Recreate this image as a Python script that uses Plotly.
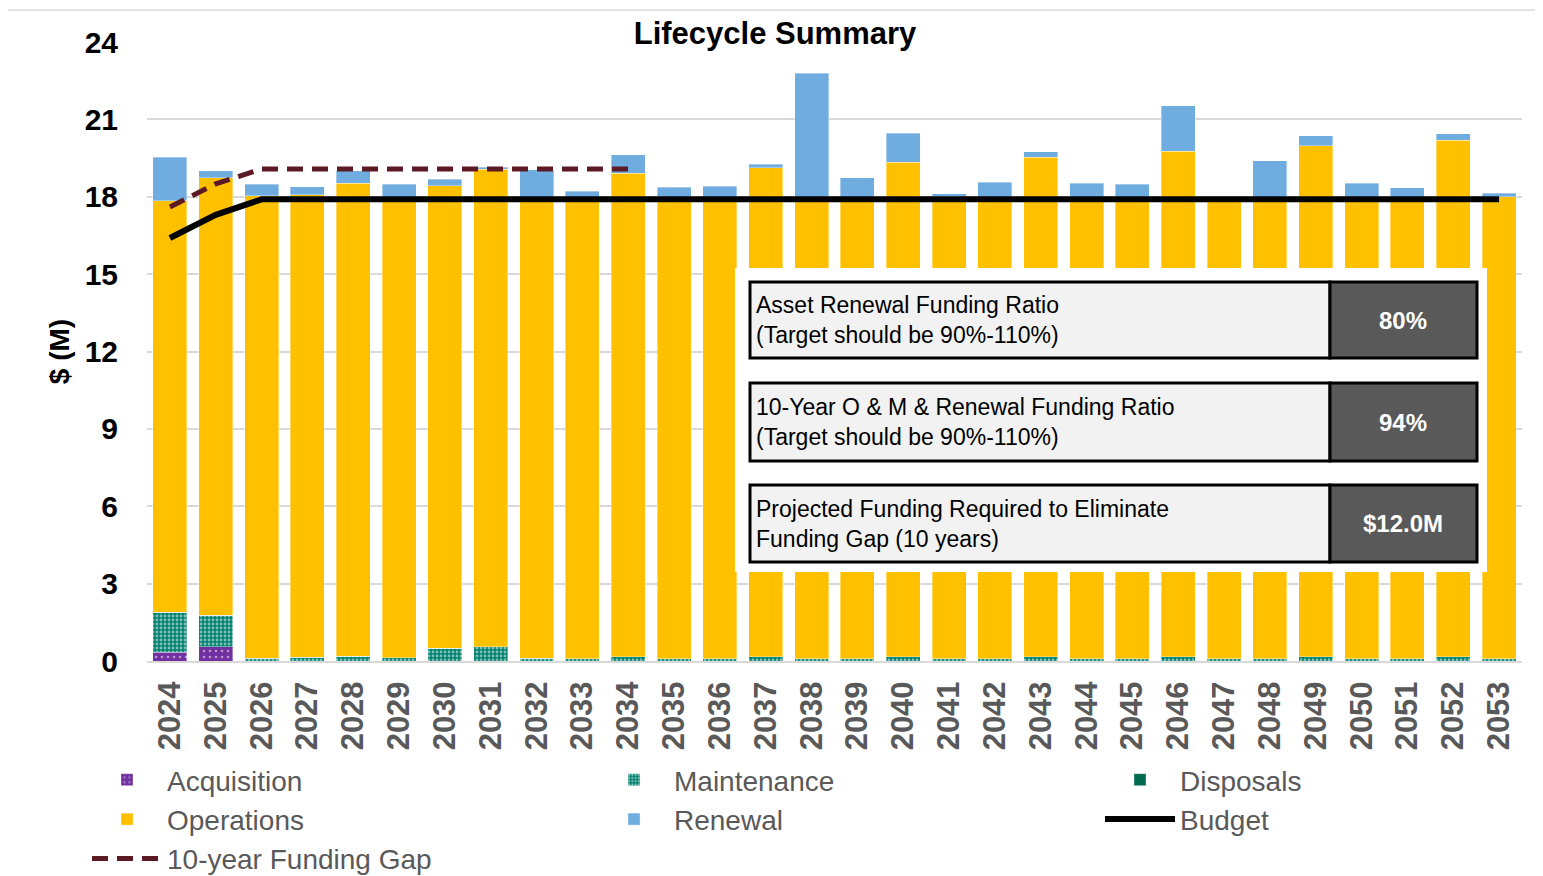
import plotly.graph_objects as go

years = [str(y) for y in range(2024, 2054)]

acquisition = [0.33, 0.55] + [0.0] * 28
maintenance = [1.57, 1.23, 0.10, 0.15, 0.19, 0.13, 0.50, 0.55, 0.10, 0.08,
               0.17, 0.08, 0.08, 0.17, 0.08, 0.08, 0.17, 0.08, 0.08, 0.17,
               0.08, 0.08, 0.17, 0.08, 0.08, 0.17, 0.08, 0.08, 0.17, 0.08]
disposals = [0.0] * 30
operations = [15.94, 16.96, 17.94, 17.93, 18.34, 17.77, 17.92, 18.52, 17.80, 17.82,
              18.74, 17.82, 17.82, 18.96, 17.82, 17.82, 19.16, 17.92, 17.82, 19.37,
              17.82, 17.82, 19.60, 17.82, 17.82, 19.81, 17.82, 17.82, 20.02, 17.92]
renewal = [1.70, 0.26, 0.44, 0.30, 0.48, 0.59, 0.25, 0.07, 1.14, 0.32,
           0.71, 0.46, 0.51, 0.13, 4.89, 0.84, 1.13, 0.11, 0.67, 0.20,
           0.62, 0.58, 1.75, 0.00, 1.49, 0.38, 0.62, 0.44, 0.26, 0.13]
budget = [16.4, 17.3] + [17.9] * 28
funding_gap = [17.6, 18.5] + [19.08] * 9 + [None] * 19

y_ticks = [0, 3, 6, 9, 12, 15, 18, 21, 24]

table_labels = ["Asset Renewal Funding Ratio<br>(Target should be 90%-110%)",
                "10-Year O & M & Renewal Funding Ratio<br>(Target should be 90%-110%)",
                "Projected Funding Required to Eliminate<br>Funding Gap (10 years)"]
table_values = ["80%", "94%", "$12.0M"]

FONT = "Liberation Sans, Arial, sans-serif"
LEG_FONT = dict(family=FONT, size=28, color="#595959")
bar_line = dict(color="rgba(255,255,255,0.6)", width=0.6)

# page body has an 8px margin: screen plot area is x 147..1522, y 42..661
OFF = 8
W, H = 1543 - OFF, 876 - OFF


def px(x):
    return (x - 147) / 1375


def py(y):
    return (661 - y) / 619


fig = go.Figure()
fig.add_trace(go.Bar(x=years, y=acquisition, name="Acquisition", legend="legend",
                     marker=dict(color="#7030A0", line=bar_line,
                                 pattern=dict(shape=".", fgcolor="white", bgcolor="#7030A0",
                                              size=6, solidity=0.15))))
fig.add_trace(go.Bar(x=years, y=maintenance, name="Maintenance", legend="legend2",
                     marker=dict(color="#00806F", line=bar_line,
                                 pattern=dict(shape=".", fgcolor="white", bgcolor="#00806F",
                                              size=4, solidity=0.4))))
fig.add_trace(go.Bar(x=years, y=disposals, name="Disposals", legend="legend3",
                     marker=dict(color="#006B4F", line=bar_line)))
fig.add_trace(go.Bar(x=years, y=operations, name="Operations", legend="legend",
                     marker=dict(color="#FFC000", line=bar_line)))
fig.add_trace(go.Bar(x=years, y=renewal, name="Renewal", legend="legend2",
                     marker=dict(color="#6FACE0", line=bar_line)))
fig.add_trace(go.Scatter(x=years, y=budget, name="Budget", mode="lines", legend="legend3",
                         line=dict(color="black", width=6)))
fig.add_trace(go.Scatter(x=years, y=funding_gap, name="10-year Funding Gap", mode="lines",
                         legend="legend",
                         line=dict(color="#5C1A24", width=5, dash="16px,9px")))

shapes = []
shapes.append(dict(type="rect", xref="paper", yref="paper",
                   x0=px(7), x1=px(1541), y0=py(900), y1=py(10),
                   line=dict(color="#D9D9D9", width=1.5), layer="below"))
shapes.append(dict(type="rect", xref="paper", yref="paper",
                   x0=px(735), x1=px(1487), y0=py(572), y1=py(268),
                   fillcolor="white", line=dict(width=0), layer="above"))
rows = [(282, 358), (383, 461), (485, 562)]
annotations = []
for (t, b), lab, val in zip(rows, table_labels, table_values):
    shapes.append(dict(type="rect", xref="paper", yref="paper",
                       x0=px(750), x1=px(1330), y0=py(b), y1=py(t),
                       fillcolor="#F2F2F2", line=dict(color="black", width=3), layer="above"))
    shapes.append(dict(type="rect", xref="paper", yref="paper",
                       x0=px(1330), x1=px(1477), y0=py(b), y1=py(t),
                       fillcolor="#595959", line=dict(color="black", width=3), layer="above"))
    annotations.append(dict(xref="paper", yref="paper", x=px(754), y=py((t + b) / 2),
                            text=lab, showarrow=False, xanchor="left", yanchor="middle",
                            align="left",
                            font=dict(family=FONT, size=23, color="black")))
    annotations.append(dict(xref="paper", yref="paper", x=px(1403), y=py((t + b) / 2),
                            text="<b>" + val + "</b>", showarrow=False,
                            xanchor="center", yanchor="middle",
                            font=dict(family=FONT, size=24, color="white")))

leg_common = dict(orientation="v", y=py(755), xanchor="left", yanchor="top",
                  font=LEG_FONT, itemwidth=70, traceorder="normal", tracegroupgap=0,
                  bgcolor="rgba(0,0,0,0)")

fig.update_layout(
    width=W, height=H,
    barmode="stack", bargap=0.26,
    plot_bgcolor="white", paper_bgcolor="white",
    margin=dict(l=147 - OFF, r=21, t=42 - OFF, b=H - (661 - OFF), autoexpand=False),
    title=dict(text="<b>Lifecycle Summary</b>", x=(775 - OFF) / W, xref="container",
               xanchor="center", y=1 - (33 - OFF) / H, yanchor="middle",
               font=dict(family=FONT, size=31, color="black")),
    xaxis=dict(type="category", tickangle=-90, showgrid=False,
               showline=True, linecolor="#D9D9D9", linewidth=2, ticks="",
               ticklabelstandoff=6,
               tickfont=dict(family=FONT, size=31, color="#595959", weight="bold")),
    yaxis=dict(range=[0, 24], tickvals=y_ticks, showgrid=True, gridcolor="#D9D9D9",
               gridwidth=1.5, zeroline=False, ticks="",
               tickfont=dict(family=FONT, size=30, color="black", weight="bold"),
               ticklabelstandoff=28,
               title=dict(text="$ (M)", standoff=6,
                          font=dict(family=FONT, size=28, color="black", weight="bold"))),
    legend=dict(x=px(87), **leg_common),
    legend2=dict(x=px(594), **leg_common),
    legend3=dict(x=px(1100), **leg_common),
    shapes=shapes, annotations=annotations,
)

fig.write_html("out.html")
